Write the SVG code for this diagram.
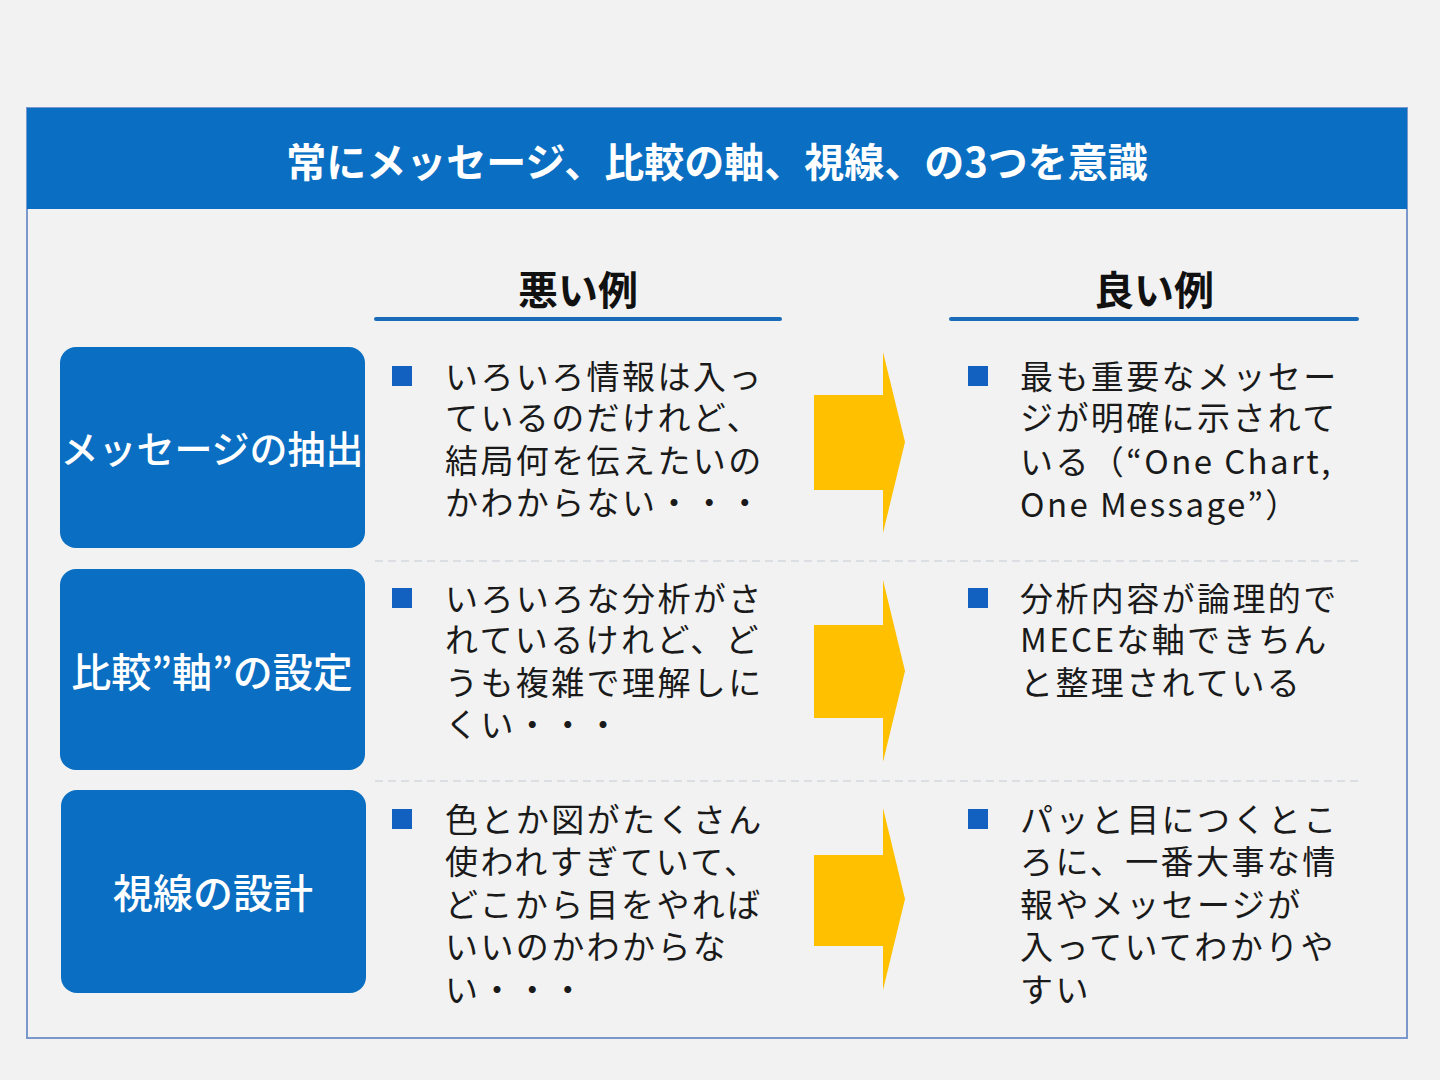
<svg xmlns="http://www.w3.org/2000/svg" width="1440" height="1080" viewBox="0 0 1440 1080">
<style>
.t{font-family:"Noto Sans CJK JP","Noto Sans",sans-serif}
.title{font-size:40px;font-weight:700;fill:#ffffff}
.hdr{font-size:40px;font-weight:700;fill:#111111}
.lbl{font-size:40px;font-weight:500;fill:#ffffff}
.body{font-size:33px;fill:#1a1a1a;letter-spacing:2.4px}
.box{fill:#0a6fc2}
.bul{fill:#1260bf}
.arr{fill:#ffc000}
.sep{stroke:#d3d8de;stroke-width:1.5;stroke-dasharray:8 5;fill:none}
.ul{stroke:#1a6cb8;stroke-width:4;stroke-linecap:round}
</style>
<rect x="0" y="0" width="1440" height="1080" fill="#f2f2f2"/>
<g id="frame">
<rect x="27" y="108" width="1380" height="930" fill="#f2f2f2" stroke="#7b98cc" stroke-width="2"/>
<rect x="27" y="108" width="1380" height="101" fill="#0a6fc2"/>
<text class="t title" x="717" y="177" text-anchor="middle">常にメッセージ、比較の軸、視線、の3つを意識</text>
</g>
<g id="header-bad">
<text class="t hdr" x="578" y="305" text-anchor="middle">悪い例</text>
<line class="ul" x1="376" y1="319" x2="780" y2="319"/>
</g>
<g id="header-good">
<text class="t hdr" x="1154" y="305" text-anchor="middle">良い例</text>
<line class="ul" x1="951" y1="319" x2="1357" y2="319"/>
</g>
<g id="separators">
<line class="sep" x1="375" y1="561" x2="1358" y2="561"/>
<line class="sep" x1="375" y1="781" x2="1358" y2="781"/>
</g>
<g id="label-message">
<rect class="box" x="60" y="347" width="305" height="201" rx="16"/>
<text class="t lbl" x="212" y="463" text-anchor="middle" style="font-size:38px">メッセージの抽出</text>
</g>
<g id="label-axis">
<rect class="box" x="60" y="569" width="305" height="201" rx="16"/>
<text class="t lbl" x="212" y="687" text-anchor="middle">比較”軸”の設定</text>
</g>
<g id="label-gaze">
<rect class="box" x="61" y="790" width="305" height="203" rx="16"/>
<text class="t lbl" x="213" y="908" text-anchor="middle">視線の設計</text>
</g>
<g id="bad-1">
<rect class="bul" x="392" y="366" width="20" height="20"/>
<text class="t body" x="445" y="389">いろいろ情報は入っ</text>
<text class="t body" x="445" y="430">ているのだけれど、</text>
<text class="t body" x="445" y="473">結局何を伝えたいの</text>
<text class="t body" x="445" y="515">かわからない・・・</text>
</g>
<g id="bad-2">
<rect class="bul" x="392" y="588" width="20" height="20"/>
<text class="t body" x="445" y="611">いろいろな分析がさ</text>
<text class="t body" x="445" y="652">れているけれど、ど</text>
<text class="t body" x="445" y="695">うも複雑で理解しに</text>
<text class="t body" x="445" y="737">くい・・・</text>
</g>
<g id="bad-3">
<rect class="bul" x="392" y="809" width="20" height="20"/>
<text class="t body" x="445" y="832">色とか図がたくさん</text>
<text class="t body" x="445" y="874">使われすぎていて、</text>
<text class="t body" x="445" y="917">どこから目をやれば</text>
<text class="t body" x="445" y="959">いいのかわからな</text>
<text class="t body" x="445" y="1002">い・・・</text>
</g>
<g id="good-1">
<rect class="bul" x="968" y="366" width="20" height="20"/>
<text class="t body" x="1020" y="389">最も重要なメッセー</text>
<text class="t body" x="1020" y="430">ジが明確に示されて</text>
<text class="t body" x="1020" y="474" letter-spacing="0">いる（“One Chart,</text>
<text class="t body" x="1020" y="517" letter-spacing="0">One Message”）</text>
</g>
<g id="good-2">
<rect class="bul" x="968" y="588" width="20" height="20"/>
<text class="t body" x="1020" y="611">分析内容が論理的で</text>
<text class="t body" x="1020" y="652" letter-spacing="0.8">MECEな軸できちん</text>
<text class="t body" x="1020" y="695">と整理されている</text>
</g>
<g id="good-3">
<rect class="bul" x="968" y="809" width="20" height="20"/>
<text class="t body" x="1020" y="832">パッと目につくとこ</text>
<text class="t body" x="1020" y="874">ろに、一番大事な情</text>
<text class="t body" x="1020" y="917">報やメッセージが</text>
<text class="t body" x="1020" y="959">入っていてわかりや</text>
<text class="t body" x="1020" y="1002">すい</text>
</g>
<g id="connectors">
<polygon class="arr" points="814,395 883,395 883,352 905,442 883,533 883,490 814,490"/>
<polygon class="arr" points="814,625 883,625 883,580 905,671 883,762 883,718 814,718"/>
<polygon class="arr" points="814,855 883,855 883,808 905,899 883,990 883,946 814,946"/>
</g>
</svg>
